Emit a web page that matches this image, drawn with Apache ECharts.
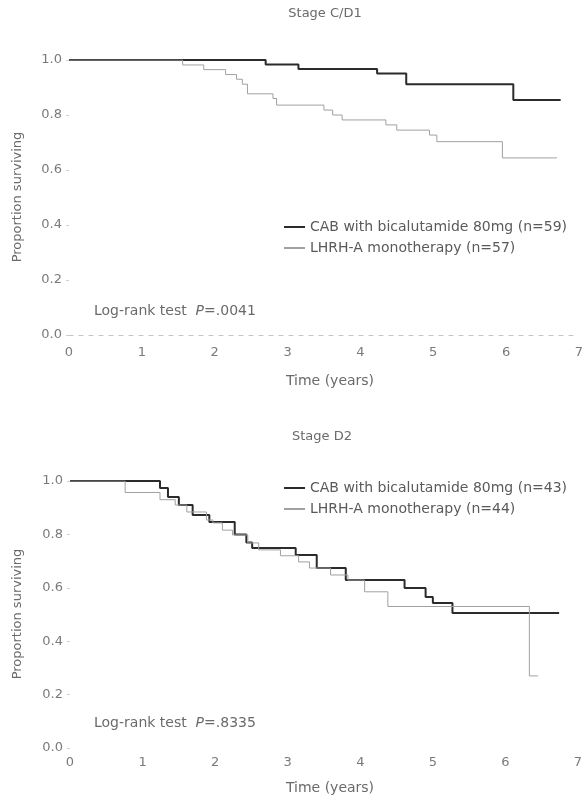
<!DOCTYPE html>
<html>
<head>
<meta charset="utf-8">
<script src="https://cdn.jsdelivr.net/npm/echarts@6/dist/echarts.min.js"></script>
<style>
html,body{margin:0;padding:0;background:#fff;}
#chart{width:586px;height:801px;}
</style>
</head>
<body>
<div id="chart"></div>
<script>
// ---- Data ----
const xTicks = [0, 1, 2, 3, 4, 5, 6, 7];
const yTicks = [0.0, 0.2, 0.4, 0.6, 0.8, 1.0];

// Stage C/D1
const cd1CabName = 'CAB with bicalutamide 80mg (n=59)';
const cd1CabTime = [0, 2.7, 3.15, 4.23, 4.63, 6.1, 6.75];
const cd1CabSurv = [1.0, 0.984, 0.967, 0.951, 0.912, 0.855, 0.855];

const cd1LhrhName = 'LHRH-A monotherapy (n=57)';
const cd1LhrhTime = [0, 1.56, 1.85, 2.15, 2.3, 2.38, 2.45, 2.8, 2.85, 3.5, 3.62, 3.75, 4.35, 4.5, 4.95, 5.05, 5.95, 6.7];
const cd1LhrhSurv = [1.0, 0.982, 0.965, 0.947, 0.93, 0.912, 0.877, 0.86, 0.836, 0.818, 0.80, 0.782, 0.764, 0.745, 0.727, 0.703, 0.644, 0.644];

// Stage D2
const d2CabName = 'CAB with bicalutamide 80mg (n=43)';
const d2CabTime = [0, 1.24, 1.35, 1.5, 1.69, 1.92, 2.27, 2.43, 2.51, 3.11, 3.4, 3.8, 4.61, 4.9, 5.0, 5.27, 6.74];
const d2CabSurv = [1.0, 0.974, 0.94, 0.91, 0.873, 0.846, 0.80, 0.77, 0.749, 0.723, 0.674, 0.629, 0.599, 0.566, 0.543, 0.506, 0.506];

const d2LhrhName = 'LHRH-A monotherapy (n=44)';
const d2LhrhTime = [0, 0.76, 1.24, 1.45, 1.61, 1.88, 1.97, 2.1, 2.24, 2.45, 2.6, 2.9, 3.15, 3.3, 3.59, 3.83, 4.06, 4.38, 6.33, 6.45];
const d2LhrhSurv = [1.0, 0.957, 0.93, 0.91, 0.884, 0.854, 0.843, 0.816, 0.798, 0.768, 0.742, 0.72, 0.697, 0.674, 0.648, 0.629, 0.585, 0.53, 0.27, 0.27];

const titles = ['Stage C/D1', 'Stage D2'];
const pValues = ['.0041', '.8335'];

// ---- Build ----
function pairs(t, s) { return t.map((x, i) => [x, s[i]]); }

const FONT = 'DejaVu Sans';
const TXT = '#6a6a6a';
const CAB_COLOR = '#2b2b2b';
const LHRH_COLOR = '#a0a0a0';

function xAxis(gridIndex, showLine, margin) {
  return {
    type: 'value', gridIndex, min: xTicks[0], max: xTicks[xTicks.length - 1], interval: 1,
    axisLine: { show: showLine, lineStyle: { color: '#c4c4c4', type: [4, 6], width: 1 } },
    axisTick: { show: false },
    splitLine: { show: false },
    axisLabel: { color: '#7a7a7a', fontFamily: FONT, fontSize: 13, margin }
  };
}
function yAxis(gridIndex) {
  return {
    type: 'value', gridIndex, min: yTicks[0], max: yTicks[yTicks.length - 1], interval: 0.2,
    axisLine: { show: false },
    axisTick: { show: true, length: 3, inside: false, lineStyle: { color: '#cfcfcf' } },
    splitLine: { show: false },
    axisLabel: { color: '#7a7a7a', fontFamily: FONT, fontSize: 13, margin: 7, formatter: v => v.toFixed(1) }
  };
}
function line(name, t, s, idx, color, width, z) {
  return {
    name, type: 'line', step: 'end', xAxisIndex: idx, yAxisIndex: idx,
    data: pairs(t, s), symbol: 'none', silent: true,
    lineStyle: { color, width }, itemStyle: { color }, z
  };
}
function legend(top, left, names) {
  return {
    left, top, orient: 'vertical', selectedMode: false,
    icon: 'rect', itemWidth: 21, itemHeight: 2, itemGap: 7,
    textStyle: { color: '#5a5a5a', fontFamily: FONT, fontSize: 14, lineHeight: 14 },
    data: names
  };
}
function txt(x, y, text, size, extra) {
  return Object.assign({
    type: 'text', x, y,
    style: { text, fill: TXT, font: size + 'px "' + FONT + '"', textAlign: 'center', textVerticalAlign: 'middle' }
  }, extra || {});
}
function logrank(y, p) {
  return {
    type: 'text', x: 94, y,
    style: {
      text: '{a|Log-rank test  }{b|P}{a|=' + p + '}',
      textVerticalAlign: 'middle', textAlign: 'left',
      rich: {
        a: { fill: TXT, fontFamily: FONT, fontSize: 14 },
        b: { fill: TXT, fontFamily: FONT, fontSize: 14, fontStyle: 'italic' }
      }
    }
  };
}

const chart = echarts.init(document.getElementById('chart'), null, { renderer: 'canvas' });
chart.setOption({
  animation: false,
  backgroundColor: '#ffffff',
  grid: [
    { left: 69, top: 60, width: 513, height: 275 },
    { left: 70, top: 481, width: 508, height: 267 }
  ],
  xAxis: [xAxis(0, true, 11), xAxis(1, false, 8)],
  yAxis: [yAxis(0), yAxis(1)],
  legend: [
    legend(215, 279, [cd1CabName, cd1LhrhName]),
    legend(476, 279, [d2CabName, d2LhrhName])
  ],
  series: [
    line(cd1CabName, cd1CabTime, cd1CabSurv, 0, CAB_COLOR, 2, 2),
    line(cd1LhrhName, cd1LhrhTime, cd1LhrhSurv, 0, LHRH_COLOR, 1, 3),
    line(d2CabName, d2CabTime, d2CabSurv, 1, CAB_COLOR, 2, 2),
    line(d2LhrhName, d2LhrhTime, d2LhrhSurv, 1, LHRH_COLOR, 1, 3)
  ],
  graphic: [
    txt(325, 14, titles[0], 13),
    txt(330, 381, 'Time (years)', 14),
    txt(18, 197, 'Proportion surviving', 13, { rotation: Math.PI / 2 }),
    logrank(311, pValues[0]),
    txt(322, 437, titles[1], 13),
    txt(330, 788, 'Time (years)', 14),
    txt(18, 614, 'Proportion surviving', 13, { rotation: Math.PI / 2 }),
    logrank(723, pValues[1])
  ]
});
</script>
</body>
</html>
